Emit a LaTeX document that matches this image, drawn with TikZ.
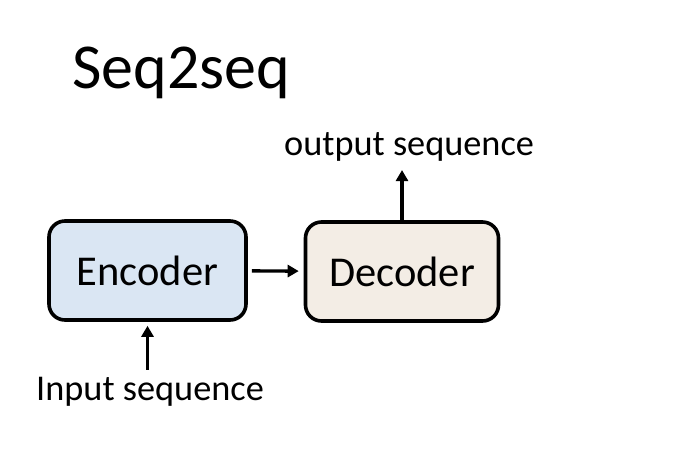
\documentclass[tikz,border=0pt]{standalone}
\usepackage{fontspec}
\setmainfont{Carlito}
\usetikzlibrary{arrows.meta}
\definecolor{encblue}{HTML}{DAE6F3}
\definecolor{decbeige}{HTML}{F3EDE5}

\begin{document}
\begin{tikzpicture}[x=1pt,y=-1pt,
  block/.style={draw=black, line width=3.6pt, rounded corners=16pt, minimum width=197pt, minimum height=99pt, inner sep=0pt, font=\fontsize{42.5}{50}\selectfont},
  seqlabel/.style={inner sep=0pt, anchor=base west, font=\fontsize{36.3}{43}\selectfont},
  flow/.style={line width=3.4pt, -{Triangle[length=11pt,width=12pt]}}]

\useasboundingbox (0,0) rectangle (682,456);

\node[anchor=base west, inner sep=0pt, font=\fontsize{64}{76}\selectfont] (title) at (72,88) {Seq2seq};

\node[block, fill=encblue] (enc) at (147.5,270.5) {Encoder};
\node[block, fill=decbeige, minimum width=193pt] (dec) at (402,271.5) {Decoder};

\node[seqlabel] (inp) at (36,400) {Input sequence};
\node[seqlabel] (outp) at (284,155) {output sequence};

    \draw[flow, shorten <=4pt, shorten >=5pt] (enc) -- (dec);%encoder to decoder
    \draw[flow, shorten <=7pt, shorten >=4pt] (inp.north -| enc.south) -- (enc.south);
    \draw[flow, shorten >=9pt] (dec.north) -- (outp.south -| dec.north);
\end{tikzpicture}
\end{document}
